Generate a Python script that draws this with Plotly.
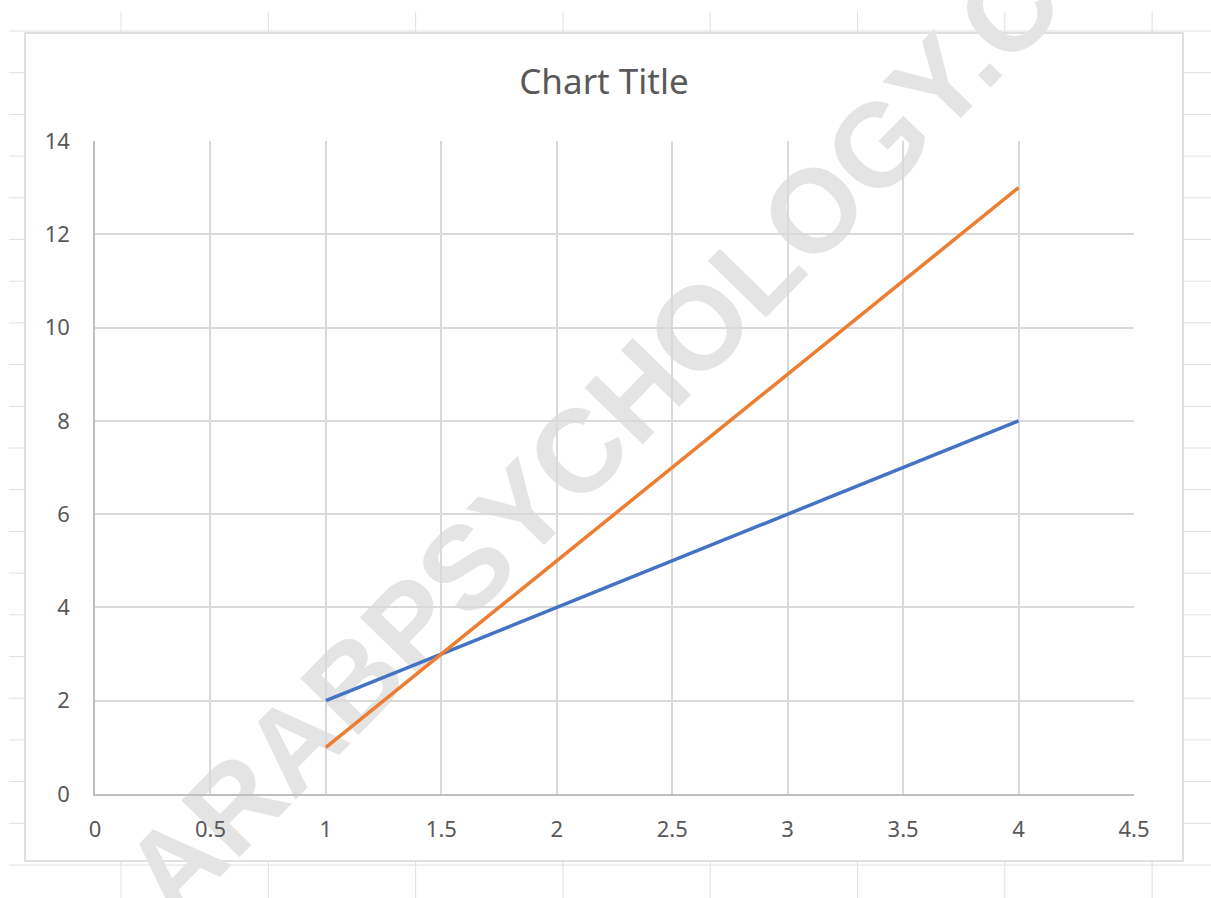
import plotly.graph_objects as go

# ---- data ----
x_values = [1, 1.5, 2, 2.5, 3, 3.5, 4]
series_blue = [2, 3, 4, 5, 6, 7, 8]
series_orange = [1, 3, 5, 7, 9, 11, 13]
x_ticks = [0, 0.5, 1, 1.5, 2, 2.5, 3, 3.5, 4, 4.5]
y_ticks = [0, 2, 4, 6, 8, 10, 12, 14]
title_text = "Chart Title"
watermark_text = "ARABPSYCHOLOGY.COM"

# ---- layout geometry (pixels) ----
W, H = 1211, 898
PL, PR, PT, PB = 95, 1134, 141, 794   # plot area


def px(x):
    return (x - PL) / (PR - PL)


def py(y):
    return (PB - y) / (PB - PT)


shapes = []
# spreadsheet background grid
sheet_col = "#e0e0e0"
col_x = [121 + 147.3 * k for k in range(8)]
for cx in col_x:
    shapes.append(dict(type="line", xref="paper", yref="paper", layer="below",
                       x0=px(cx), x1=px(cx), y0=py(12), y1=py(H),
                       line=dict(color=sheet_col, width=1)))
row_y = [31 + 41.7 * k for k in range(22)]
for ry in row_y:
    shapes.append(dict(type="line", xref="paper", yref="paper", layer="below",
                       x0=px(9), x1=px(W), y0=py(ry), y1=py(ry),
                       line=dict(color=sheet_col, width=1)))
# chart area frame
shapes.append(dict(type="rect", xref="paper", yref="paper", layer="below",
                   x0=px(25), x1=px(1183), y0=py(861), y1=py(33),
                   fillcolor="white", line=dict(color="#d6d6d6", width=1.5)))
# watermark
cx, cy = 650, 362
shapes.append(dict(type="rect", xref="paper", yref="paper", layer="below",
                   x0=px(cx - 1), x1=px(cx + 1), y0=py(cy + 1), y1=py(cy - 1),
                   line=dict(width=0), fillcolor="rgba(0,0,0,0)",
                   label=dict(text=watermark_text, textangle=-45.7,
                              textposition="middle center",
                              font=dict(family="Liberation Sans", size=118,
                                        color="#e4e4e4", weight="bold"))))

fig = go.Figure()
fig.add_trace(go.Scatter(x=x_values, y=series_blue, mode="lines",
                         line=dict(color="#4472C4", width=3.5), name="Series1"))
fig.add_trace(go.Scatter(x=x_values, y=series_orange, mode="lines",
                         line=dict(color="#ED7D31", width=3.5), name="Series2"))

tick_font = dict(family="Noto Sans", size=22, color="#595959")
fig.update_layout(
    width=W, height=H,
    margin=dict(l=PL, r=W - PR, t=PT, b=H - PB, autoexpand=False),
    paper_bgcolor="white", plot_bgcolor="rgba(0,0,0,0)",
    showlegend=False,
    shapes=shapes,
    title=dict(text=title_text, xref="container", yref="container",
               x=604 / W, y=1 - 82 / H, xanchor="center", yanchor="middle",
               font=dict(family="Noto Sans", size=35, color="#595959")),
    xaxis=dict(range=[0, 4.5], tickvals=x_ticks, ticktext=[str(t) for t in x_ticks],
               showgrid=True, gridcolor="#d9d9d9", gridwidth=1.5,
               showline=True, linecolor="#bfbfbf", linewidth=1.5,
               zeroline=False, ticks="", tickfont=tick_font, ticklabelstandoff=15),
    yaxis=dict(range=[0, 14], tickvals=y_ticks, ticktext=[str(t) for t in y_ticks],
               showgrid=True, gridcolor="#d9d9d9", gridwidth=1.5,
               showline=True, linecolor="#bfbfbf", linewidth=1.5,
               zeroline=False, ticks="", tickfont=tick_font, ticklabelstandoff=19),
)

fig.write_html("out.html")
